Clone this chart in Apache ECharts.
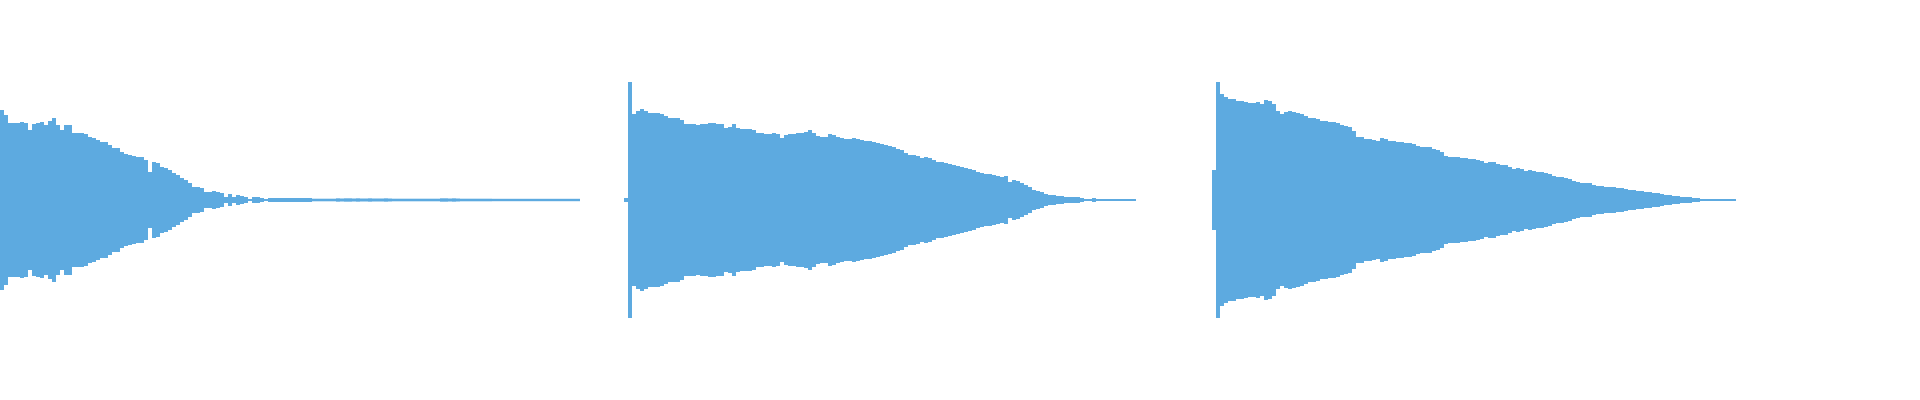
<!DOCTYPE html>
<html>
<head>
<meta charset="utf-8">
<script src="https://cdn.jsdelivr.net/npm/echarts@6/dist/echarts.min.js"></script>
<style>
  html, body { margin: 0; padding: 0; background: #ffffff; }
  #chart { width: 1920px; height: 400px; }
</style>
</head>
<body>
<div id="chart"></div>
<script>
// Peak amplitude per time bin (each bin = same duration).
const clip1 = [
  90,85,77,77,77,78,77,70,76,77,
  78,75,79,82,75,70,75,75,67,67,
  67,66,63,62,60,58,58,55,52,52,
  48,46,45,44,43,43,40,28,38,37,
  33,32,30,27,25,22,20,17,13,13,
  12,8,8,9,8,7,3,6,3,5,
  4,3,1,3,3,2,1,2,2,2,
  2,2,2,2,2,2,2,2,
  1.3,1.3,1.3,1.3,1.3,1.3,
  1.7,1.5,1.7,1.7,1.5,1.7,
  1.5,1.5,1.7,1.5,1.5,1.5,1.7,1.5,
  1.3,1.3,1.3,1.3,1.3,1.3,1.3,1.3,1.3,1.3,1.3,1.3,
  1.7,1.7,1.5,1.7,1.5,
  1.3,1.3,1.3,1.3,1.3,1.3,1.3,1.3,
  1.2,1.2,1.2,1.2,1.2,1.2,1.2,1.2,1.2,1.2,1.2,
  1.2,1.2,1.2,1.2,1.2,1.2,1.2,1.2,1.2,1.2,1.2
];
const silence1 = 11;
const clip2 = [
  2,118,86,89,91,89,87,87,87,86,
  84,82,82,82,80,76,76,76,75,76,
  76,77,77,76,76,72,73,76,72,71,
  71,71,70,67,67,66,66,67,66,62,
  65,66,66,67,67,68,70,67,64,63,
  63,66,65,63,62,61,61,62,61,60,
  59,59,58,57,56,55,54,53,51,50,
  47,45,45,44,42,43,42,40,38,38,
  37,36,35,34,33,32,31,30,28,27,
  26,26,25,24,23,24,18,20,19,17,
  15,13,10,9,8,6,5,5,4,4,
  3,3,3,3,2,1,1,2,1,1,
  1,0.7,0.7,0.7,0.7,0.7,0.7,0.7
];
const silence2 = 19;
const clip3 = [
  30,118,106,103,101,101,99,99,98,97,
  97,98,96,100,99,96,89,86,88,89,
  88,87,86,84,82,82,81,79,79,78,
  78,77,75,74,73,69,63,63,61,61,
  60,59,62,61,59,59,58,58,57,57,
  56,54,53,53,53,51,50,48,44,43,
  43,43,42,42,41,41,40,39,37,38,
  38,36,35,35,33,31,32,31,29,30,
  29,28,28,27,26,24,23,23,22,21,
  19,18,17,17,17,15,14,14,13,13,
  13,12,12,11,10,10,9,9,8,8,
  7,7,6,5,5,4,4,3,3,3,
  2,2,1,1,0.7,0.7,0.7,0.7,0.7,0.7,
  0.7
];
const totalBins = 480;
const fullScale = 200;

function gap(n) { return new Array(n).fill(null); }
let amp = [].concat(clip1, gap(silence1), clip2, gap(silence2), clip3);
amp = amp.concat(gap(totalBins - amp.length));
const bins = amp.map((_, i) => i);
const upper = amp.map(v => v == null ? null : v);
const lower = amp.map(v => v == null ? null : -v);

const color = '#5DAAE0';
const chart = echarts.init(document.getElementById('chart'), null, { renderer: 'canvas' });
chart.setOption({
  animation: false,
  backgroundColor: '#ffffff',
  grid: { left: 0, right: 0, top: 0, bottom: 0, containLabel: false },
  xAxis: { type: 'category', data: bins, show: false, boundaryGap: true },
  yAxis: { type: 'value', min: -fullScale, max: fullScale, show: false },
  series: [
    { type: 'bar', data: upper, barCategoryGap: '0%', barGap: '-100%', barMinHeight: 1,
      itemStyle: { color: color }, silent: true },
    { type: 'bar', data: lower, barCategoryGap: '0%', barGap: '-100%', barMinHeight: 1,
      itemStyle: { color: color }, silent: true }
  ]
});
</script>
</body>
</html>
